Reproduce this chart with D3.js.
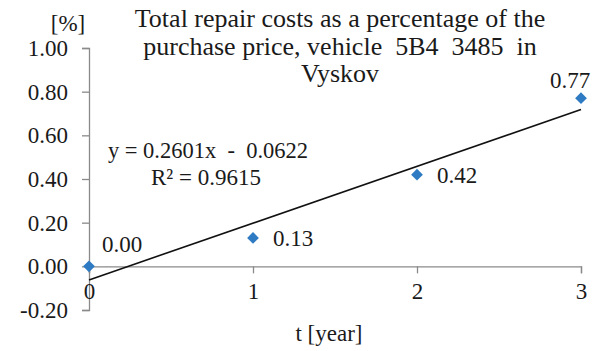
<!DOCTYPE html>
<html>
<head>
<meta charset="utf-8">
<script src="https://cdn.jsdelivr.net/npm/d3@7"></script>
<style>
  html, body { margin: 0; padding: 0; background: #fff; }
  svg { display: block; }
  text { font-family: "Liberation Serif", "Times New Roman", serif; fill: #1a1a1a; }
</style>
</head>
<body>
<svg id="chart" width="597" height="351"></svg>
<script>
// Repair cost share of purchase price by vehicle age
const years = [0, 1, 2, 3];
const costShare = [0.00, 0.13, 0.42, 0.77];
const yTicks = [-0.20, 0.00, 0.20, 0.40, 0.60, 0.80, 1.00];
const xTicks = [0, 1, 2, 3];
const trendSlope = 0.2601;
const trendIntercept = -0.0622;
const rSquared = 0.9615;
const titleLines = ["Total repair costs as a percentage of the", "purchase price, vehicle  5B4  3485  in", "Vyskov"];

const svg = d3.select("#chart");
const x = d3.scaleLinear().domain([0, 3]).range([89, 581]);
const y = d3.scaleLinear().domain([-0.2, 1.0]).range([310, 48]);

const axisColor = "#8a8a8a";

// Y axis (plain hyphen for negative values)
const yAxis = svg.append("g")
  .attr("transform", `translate(${x(0)},0)`)
  .call(d3.axisLeft(y).tickValues(yTicks).tickSize(7).tickPadding(14).tickFormat(d => d.toFixed(2)));
yAxis.select(".domain").attr("stroke", axisColor).attr("stroke-width", 1.3);
yAxis.selectAll(".tick line").attr("stroke", axisColor).attr("stroke-width", 1.3);
yAxis.selectAll(".tick text").style("font-size", "23px").attr("fill", "#1a1a1a");

// X axis drawn along y = 0
const xAxis = svg.append("g")
  .attr("transform", `translate(0,${y(0)})`)
  .call(d3.axisBottom(x).tickValues(xTicks).tickSize(7).tickPadding(9).tickFormat(d3.format("d")));
xAxis.select(".domain").attr("stroke", axisColor).attr("stroke-width", 1.3);
xAxis.selectAll(".tick line").attr("stroke", axisColor).attr("stroke-width", 1.3);
xAxis.selectAll(".tick text").style("font-size", "23px").attr("fill", "#1a1a1a");

// Linear trendline
const trend = d => trendSlope * d + trendIntercept;
svg.append("line")
  .attr("x1", x(0)).attr("y1", y(trend(0)))
  .attr("x2", x(3)).attr("y2", y(trend(3)))
  .attr("stroke", "#111").attr("stroke-width", 1.6);

// Data markers
const pts = years.map((d, i) => ({ t: d, v: costShare[i] }));
svg.selectAll("path.pt").data(pts).enter().append("path")
  .attr("class", "pt")
  .attr("d", d3.symbol().type(d3.symbolDiamond2).size(88))
  .attr("transform", d => `translate(${x(d.t)},${y(d.v)})`)
  .attr("fill", "#2f7bc3");

// Data labels
const labelOffsets = [[13, -14, "start"], [20, 8, "start"], [20, 8, "start"], [-11, -10, "middle"]];
svg.selectAll("text.lbl").data(pts).enter().append("text")
  .attr("class", "lbl")
  .attr("x", (d, i) => x(d.t) + labelOffsets[i][0])
  .attr("y", (d, i) => y(d.v) + labelOffsets[i][1])
  .attr("text-anchor", (d, i) => labelOffsets[i][2])
  .style("font-size", "23px")
  .text(d => d.v.toFixed(2));

// Trendline equation
svg.append("text").attr("x", 208).attr("y", 158).attr("text-anchor", "middle")
  .style("font-size", "22.5px").attr("xml:space", "preserve")
  .text(`y = ${trendSlope}x  -  ${Math.abs(trendIntercept)}`);
svg.append("text").attr("x", 206).attr("y", 185).attr("text-anchor", "middle")
  .style("font-size", "23px")
  .text(`R² = ${rSquared}`);

// Title
svg.append("g").selectAll("text").data(titleLines).enter().append("text")
  .attr("x", 340).attr("y", (d, i) => 27 + i * 27.5)
  .attr("text-anchor", "middle").attr("xml:space", "preserve")
  .style("font-size", "26px")
  .text(d => d);

// Axis titles
svg.append("text").attr("x", 68).attr("y", 31).attr("text-anchor", "middle")
  .style("font-size", "23px").text("[%]");
svg.append("text").attr("x", 329).attr("y", 341).attr("text-anchor", "middle")
  .style("font-size", "23px").text("t [year]");
</script>
</body>
</html>
